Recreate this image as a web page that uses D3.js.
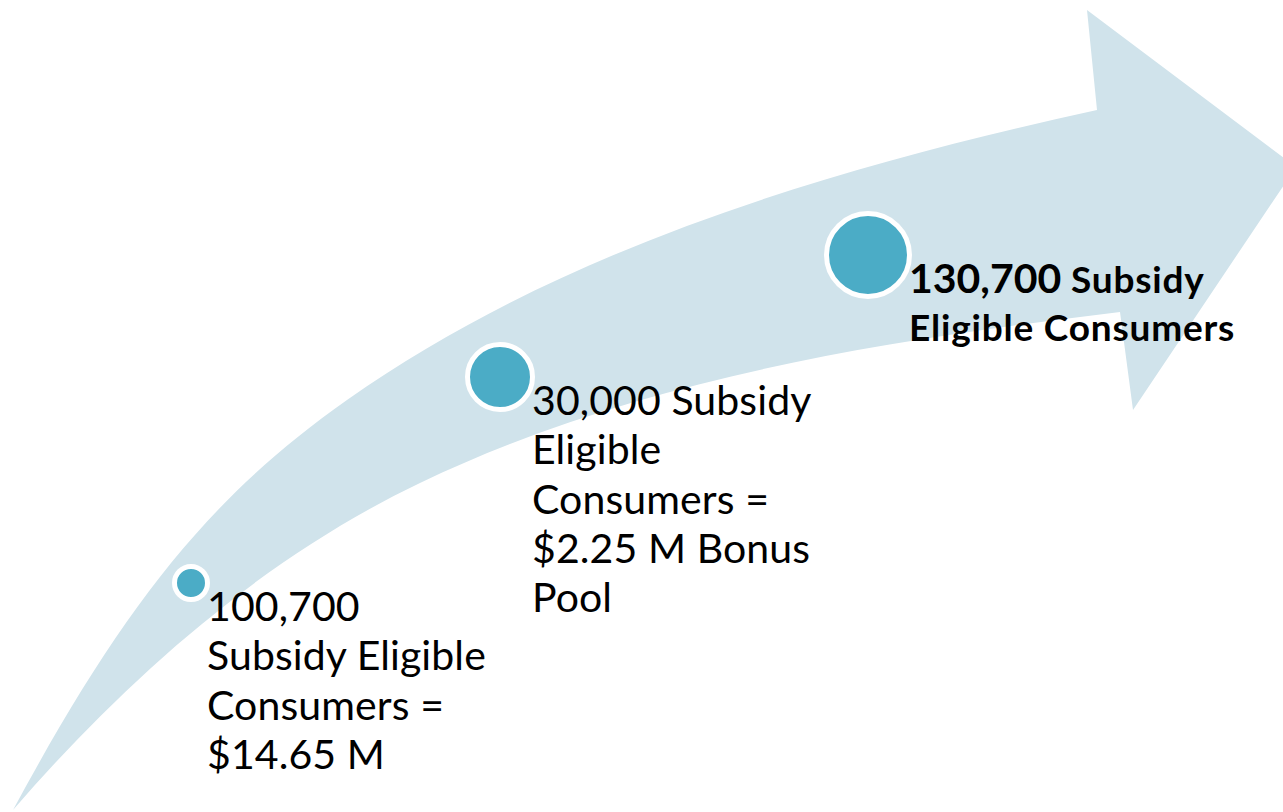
<!DOCTYPE html>
<meta charset="utf-8">
<script src="https://d3js.org/d3.v7.min.js"></script>
<style>
  body { margin: 0; background: #fff; }
  text { font-family: Lato, "Open Sans", sans-serif; fill: #000; }
</style>
<svg id="diagram" width="1283" height="812"></svg>
<script>

// step values and their caption lines
const stepCounts = [100700, 30000, 130700];
const stepLines = [
  ["100,700", "Subsidy Eligible", "Consumers =", "$14.65 M"],
  ["30,000 Subsidy", "Eligible", "Consumers =", "$2.25 M Bonus", "Pool"],
  ["130,700 Subsidy", "Eligible Consumers"]
];
const stepIndex = d3.range(stepCounts.length);

const svg = d3.select("#diagram");

// arrow outline (decoration)
const p = d3.path();
p.moveTo(13, 810);
// upper edge of the shaft
p.bezierCurveTo(118, 616, 203, 501, 347, 400);
p.bezierCurveTo(566, 246, 835, 168, 1097, 110);
// head
p.lineTo(1087, 10);
p.lineTo(1296, 167);
p.lineTo(1133, 410);
p.lineTo(1120, 312);
// lower edge back to the tail
p.bezierCurveTo(882, 341, 636, 379, 420, 483);
p.bezierCurveTo(263, 558, 127, 678, 13, 810);
p.closePath();

svg.append("path")
  .attr("d", p.toString())
  .attr("fill", "#d0e3eb");

// layout scales for the three steps
const x = d3.scaleLinear().domain([0, 1, 2]).range([191, 500, 868]);
const y = d3.scaleLinear().domain([0, 1, 2]).range([583, 377, 255]);
const r = d3.scaleLinear().domain([0, 1, 2]).range([14, 30, 39]);
const ring = 5;

svg.append("g")
  .selectAll("circle")
  .data(stepIndex)
  .join("circle")
    .attr("cx", d => x(d))
    .attr("cy", d => y(d))
    .attr("r", d => r(d) + ring / 2)
    .attr("fill", "#4bacc6")
    .attr("stroke", "#fff")
    .attr("stroke-width", ring);

// captions
const labels = svg.append("g")
  .selectAll("text")
  .data(stepIndex)
  .join("text")
    .attr("x", d => x(d) + r(d) + ring - 3)
    .attr("y", d => y(d) + 38)
    .style("font-size", d => d === 2 ? "37px" : "41px")
    .style("letter-spacing", d => d === 2 ? "0.8px" : "0.1px")
    .style("font-weight", d => d === 2 ? "bold" : "normal");

labels.each(function(d) {
  const t = d3.select(this);
  const x0 = +t.attr("x");
  const lineH = d === 2 ? 48 : 49.3;
  stepLines[d].forEach((line, i) => {
    const ts = t.append("tspan").attr("x", x0).attr("dy", i === 0 ? 0 : lineH);
    if (d === 2 && i === 0) {
      const num = d3.format(",")(stepCounts[d]);
      ts.append("tspan").style("font-size", "41px").style("letter-spacing", "0px").text(num);
      ts.append("tspan").text(line.slice(num.length));
    } else {
      ts.text(line);
    }
  });
});

</script>
